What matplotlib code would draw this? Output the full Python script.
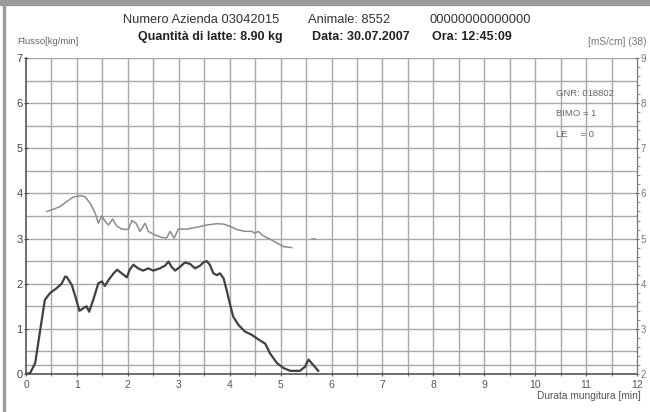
#!/usr/bin/env python3
# Milking curve: flow [kg/min] and conductivity [mS/cm] over milking time

import numpy as np
import matplotlib
matplotlib.use('Agg')
import matplotlib.pyplot as plt
from matplotlib.patches import Rectangle
from matplotlib.ticker import MultipleLocator

plt.rcParams['font.family'] = ['Liberation Sans', 'DejaVu Sans']

# Flow curve (kg/min)
flow_t = [0.0, 0.08, 0.18, 0.28, 0.37, 0.47, 0.60, 0.70, 0.77, 0.80, 0.90, 0.96,
          1.05, 1.13, 1.19, 1.24, 1.32, 1.42, 1.49, 1.55, 1.62, 1.72, 1.79, 1.88,
          1.98, 2.04, 2.11, 2.20, 2.30, 2.40, 2.50, 2.63, 2.73, 2.80, 2.86, 2.93,
          3.02, 3.12, 3.22, 3.32, 3.42, 3.48, 3.55, 3.61, 3.68, 3.75, 3.81, 3.88,
          3.94, 4.01, 4.07, 4.17, 4.30, 4.43, 4.56, 4.70, 4.79, 4.93, 5.06, 5.19,
          5.38, 5.48, 5.55, 5.61, 5.74]
flow_v = [0.0, 0.02, 0.24, 0.98, 1.64, 1.79, 1.90, 2.00, 2.16, 2.15, 1.97, 1.75,
          1.40, 1.46, 1.50, 1.38, 1.64, 2.01, 2.05, 1.95, 2.08, 2.23, 2.31, 2.23,
          2.14, 2.32, 2.42, 2.34, 2.29, 2.34, 2.29, 2.34, 2.40, 2.49, 2.37, 2.29,
          2.37, 2.47, 2.44, 2.34, 2.40, 2.47, 2.50, 2.42, 2.23, 2.19, 2.23, 2.12,
          1.86, 1.53, 1.27, 1.09, 0.94, 0.87, 0.77, 0.67, 0.46, 0.24, 0.13, 0.07,
          0.07, 0.16, 0.32, 0.24, 0.07]

# Conductivity curve (mS/cm, right axis)
cond_t = [0.41, 0.54, 0.67, 0.80, 0.93, 1.06, 1.16, 1.26, 1.36, 1.42, 1.49, 1.55,
          1.62, 1.70, 1.78, 1.88, 2.01, 2.08, 2.16, 2.24, 2.34, 2.40, 2.53, 2.66,
          2.76, 2.83, 2.91, 2.99, 3.16, 3.35, 3.55, 3.75, 3.88, 4.01, 4.14, 4.30,
          4.43, 4.50, 4.56, 4.66, 4.79, 4.93, 5.06, 5.22]
cond_v = [5.60, 5.65, 5.71, 5.82, 5.92, 5.95, 5.93, 5.78, 5.56, 5.34, 5.50, 5.39,
          5.30, 5.43, 5.28, 5.21, 5.20, 5.40, 5.34, 5.16, 5.34, 5.16, 5.08, 5.03,
          5.01, 5.16, 5.01, 5.21, 5.21, 5.25, 5.30, 5.33, 5.32, 5.27, 5.20, 5.16,
          5.16, 5.12, 5.16, 5.06, 4.99, 4.90, 4.82, 4.80]
cond2_t = [5.61, 5.68]
cond2_v = [4.99, 4.99]

header1 = ['Numero Azienda 03042015', 'Animale: 8552', '00000000000000']
header2 = ['Quantità di latte: 8.90 kg', 'Data: 30.07.2007', 'Ora: 12:45:09']
info_lines = ['GNR: 018802', 'BIMO = 1', 'LE     = 0']


def main():
    fig = plt.figure(figsize=(6.5, 4.12), dpi=100)
    fig.patch.set_facecolor('white')

    # grey frame of the screenshot
    fig.patches.append(Rectangle((0, 1 - 5 / 412), 1, 5 / 412, transform=fig.transFigure,
                                 color='#9c9c9c', zorder=0))
    fig.patches.append(Rectangle((3 / 650, 0), 2 / 650, 1, transform=fig.transFigure,
                                 color='#9c9c9c', zorder=0))

    ax = fig.add_axes([26 / 650, 1 - 374 / 412, 611 / 650, 316 / 412])
    ax.set_xlim(0, 12)
    ax.set_ylim(0, 7)

    # grid every 0.5 plus a threshold line
    gcol = '#a8a8a8'
    for x in np.arange(0.5, 12, 0.5):
        ax.axvline(x, color=gcol, lw=1.0, zorder=1)
    for y in np.arange(0.5, 7, 0.5):
        ax.axhline(y, color=gcol, lw=1.0, zorder=1)
    ax.axhline(0.2, color=gcol, lw=1.0, zorder=1)
    ax.axhline(7, color=gcol, lw=1.0, zorder=1)

    ax.plot(cond_t, np.array(cond_v) - 2, color='#8c8c8c', lw=1.1, zorder=3)
    ax.plot(cond2_t, np.array(cond2_v) - 2, color='#8c8c8c', lw=1.1, zorder=3)
    ax.plot(flow_t, flow_v, color='#404040', lw=1.6, zorder=4)

    ax.spines['top'].set_visible(False)
    ax.spines['left'].set_color('#555555')
    ax.spines['bottom'].set_color('#555555')
    ax.spines['right'].set_color('#777777')
    ax.spines['left'].set_linewidth(1.2)
    ax.spines['bottom'].set_linewidth(1.2)

    ax.set_xticks(range(0, 13))
    ax.xaxis.set_minor_locator(MultipleLocator(0.5))
    ax.set_yticks(range(0, 8))
    ax.tick_params(axis='x', labelsize=7.5, colors='#555555', length=3, direction='inout', pad=3)
    ax.tick_params(axis='x', which='minor', length=3, direction='inout', color='#555555')
    ax.tick_params(axis='y', labelsize=8, colors='#444444', length=3, direction='inout', pad=1)

    # right axis: conductivity
    ax2 = ax.twinx()
    ax2.set_ylim(2, 9)
    ax2.set_yticks(range(2, 10))
    ax2.yaxis.set_minor_locator(MultipleLocator(0.2))
    ax2.tick_params(axis='y', labelsize=7, colors='#777777', length=3, direction='inout', pad=1)
    ax2.tick_params(axis='y', which='minor', length=2, direction='out', color='#777777')
    for side in ['top', 'left', 'bottom']:
        ax2.spines[side].set_visible(False)
    ax2.spines['right'].set_color('#777777')

    # header texts
    for txt, x0 in zip(header1, [123, 308, 430]):
        fig.text(x0 / 650, 1 - 20 / 412, txt, fontsize=9.3, color='#333333', va='center')
    for txt, x0 in zip(header2, [138, 312, 432]):
        fig.text(x0 / 650, 1 - 37 / 412, txt, fontsize=9.0, color='#222222',
                 va='center', fontweight='bold')
    fig.text(17 / 650, 1 - 42 / 412, 'Flusso[kg/min]', fontsize=6.8, color='#666666', va='center')
    fig.text(646 / 650, 1 - 42 / 412, '[mS/cm] (38)', fontsize=7.3, color='#777777',
             va='center', ha='right')
    fig.text(641 / 650, 1 - 396 / 412, 'Durata mungitura [min]', fontsize=7.3,
             color='#555555', va='center', ha='right')

    for i, line in enumerate(info_lines):
        fig.text(556 / 650, 1 - (94 + i * 20) / 412, line, fontsize=6.8,
                 color='#666666', va='center')

    plt.savefig('out.png', dpi=100)
    plt.close('all')


if __name__ == '__main__':
    main()
